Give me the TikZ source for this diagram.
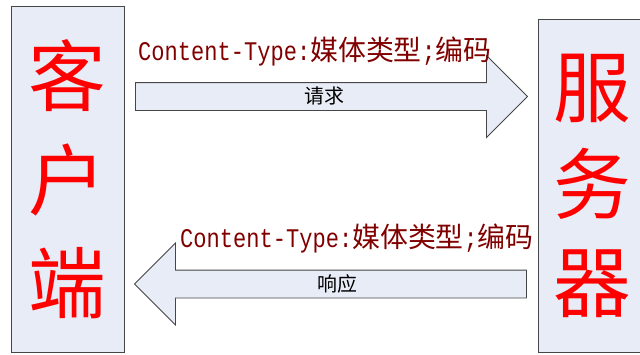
\documentclass[tikz,border=0pt]{standalone}
\usepackage{fontspec}
\newfontfamily\cjk{Noto Sans CJK SC}
\newfontfamily\asciimono[FakeStretch=0.82]{Liberation Mono}
\usetikzlibrary{shapes.arrows}
\definecolor{boxfill}{RGB}{232,236,246}
\definecolor{boxline}{RGB}{70,70,70}
\definecolor{tagred}{RGB}{128,0,0}

\begin{document}
\begin{tikzpicture}[x=1bp, y=-1bp,
  side/.style = {draw=boxline, fill=boxfill, line width=0.8bp, text=red,
                 align=center, inner sep=0pt},
  flow/.style = {single arrow, draw=boxline, fill=boxfill, line width=0.8bp,
                 font=\cjk\fontsize{20}{24}\selectfont, minimum height=392bp,
                 single arrow head extend=27bp, inner xsep=0pt, inner ysep=3.5bp,
                 text height=17bp, text depth=3bp},
  tag/.style  = {anchor=base west, text=tagred, inner sep=0pt}
]
  \useasboundingbox (0,0) rectangle (640,354);

  % Caixas laterais
  \node[side, minimum width=113bp, minimum height=346bp,
        font=\cjk\fontsize{78}{104}\selectfont] (cli) at (67.5,179.5) {客\\户\\端};
  \node[side, minimum width=108bp, minimum height=333.5bp,
        font=\cjk\fontsize{78}{98}\selectfont] (srv) at (592,185.8) {服\\务\\器};

  % Setas
  \node[flow] (req) at (324.5,96.5) {请求};
  \node[flow, shape border rotate=180] (resp) at (337.5,284) {响应};

  % Rotulos
  \node[tag] (reqtype) at (138,60)
    {\asciimono\fontsize{27}{30}\selectfont Content-Type:\cjk\fontsize{28}{30}\selectfont 媒体类型\asciimono;\cjk 编码};
  \node[tag] (resptype) at (180,247)
    {\asciimono\fontsize{27}{30}\selectfont Content-Type:\cjk\fontsize{28}{30}\selectfont 媒体类型\asciimono;\cjk 编码};
\end{tikzpicture}
\end{document}
